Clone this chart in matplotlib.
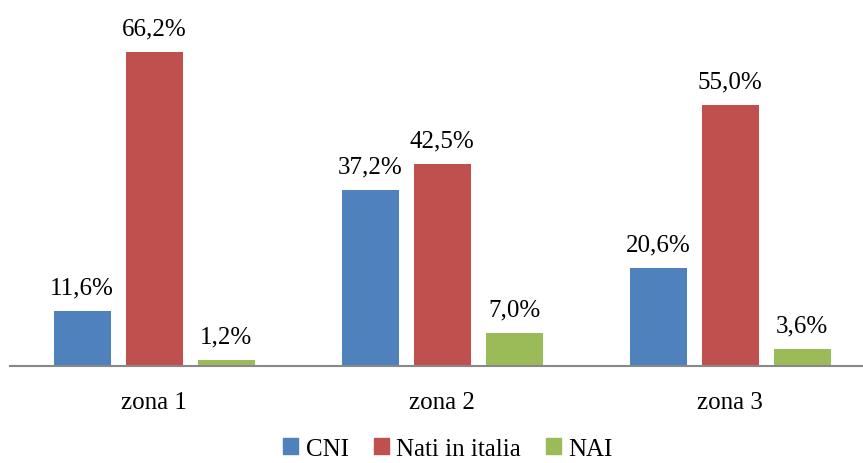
import matplotlib.pyplot as plt
import numpy as np
from matplotlib.patches import Patch

plt.rcParams['font.family'] = ['Liberation Serif', 'DejaVu Serif']

zones = ['zona 1', 'zona 2', 'zona 3']
cni = [11.6, 37.2, 20.6]
nati = [66.2, 42.5, 55.0]
nai = [1.2, 7.0, 3.6]

series = [('CNI', cni, '#4F81BD'),
          ('Nati in italia', nati, '#C0504D'),
          ('NAI', nai, '#9BBB59')]

fig = plt.figure(figsize=(8.63, 4.64), dpi=100)
ax = fig.add_axes([10 / 863, 97 / 464, 864 / 863, 332 / 464])

x = np.arange(len(zones))
width = 57 / 288
step = 72 / 288

for i, (name, vals, color) in enumerate(series):
    pos = x + (i - 1) * step
    ax.bar(pos, vals, width=width, color=color, label=name)
    for p, v in zip(pos, vals):
        ax.annotate(f'{v:.1f}%'.replace('.', ','), (p, v), xytext=(0, 9),
                    textcoords='offset points', ha='center', va='bottom',
                    fontsize=18)

ax.set_xlim(-0.5, 2.5)
ax.set_ylim(0, 70)
ax.set_xticks(x)
ax.set_xticklabels(zones, fontsize=18)
ax.tick_params(axis='x', length=0, pad=18)
ax.set_yticks([])
for s in ['top', 'right', 'left']:
    ax.spines[s].set_visible(False)
ax.spines['bottom'].set_color('#888888')
ax.spines['bottom'].set_linewidth(1.5)

handles = [Patch(color=c, label=n) for n, _, c in series]
fig.legend(handles=handles, loc='center', bbox_to_anchor=(448 / 863, 1 - 450 / 464),
           ncol=3, frameon=False, fontsize=18, handlelength=0.6, handleheight=0.6,
           handletextpad=0.3, columnspacing=1.0, borderpad=0.1)

fig.savefig('out.png', dpi=100)
